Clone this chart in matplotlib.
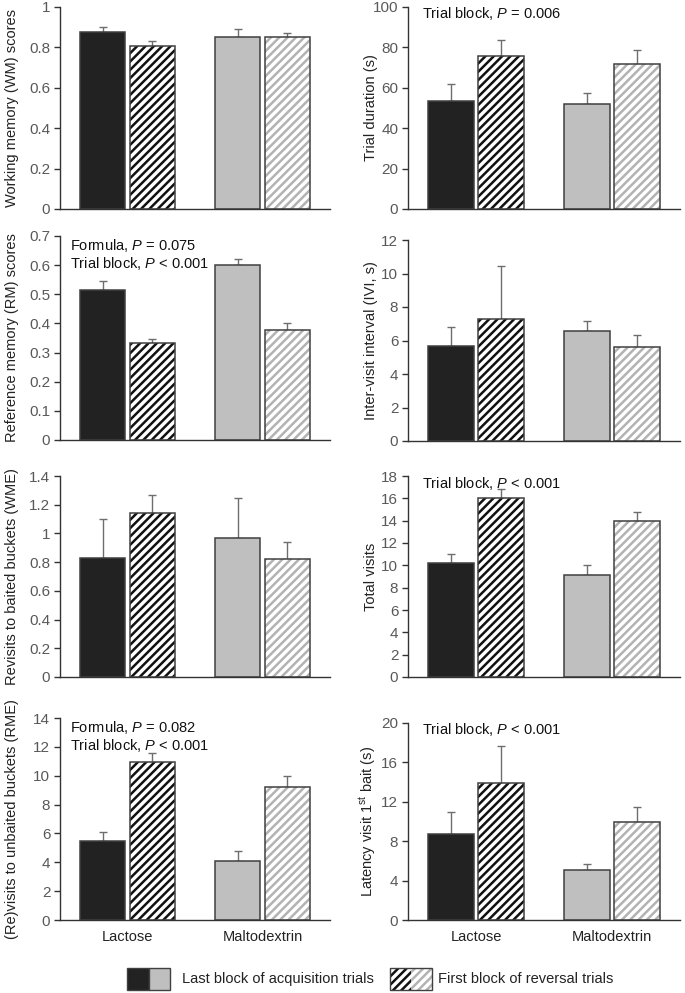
import matplotlib
matplotlib.use("Agg")
import matplotlib.pyplot as plt
from matplotlib.patches import Rectangle

plt.rcParams["font.family"] = ["Liberation Sans", "DejaVu Sans"]
plt.rcParams["mathtext.fontset"] = "custom"
plt.rcParams["mathtext.rm"] = "Liberation Sans"
plt.rcParams["mathtext.it"] = "Liberation Sans:italic"
plt.rcParams["hatch.linewidth"] = 1.8

groups = ["Lactose", "Maltodextrin"]

# means: [lactose last, lactose first-rev, malto last, malto first-rev]
wm_mean = [0.875, 0.805, 0.85, 0.85]
wm_err = [0.025, 0.025, 0.04, 0.02]
dur_mean = [53.5, 75.5, 52.0, 72.0]
dur_err = [8.5, 8.0, 5.5, 6.5]
rm_mean = [0.515, 0.333, 0.600, 0.377]
rm_err = [0.030, 0.014, 0.020, 0.025]
ivi_mean = [5.65, 7.3, 6.55, 5.6]
ivi_err = [1.15, 3.15, 0.6, 0.7]
wme_mean = [0.83, 1.14, 0.965, 0.82]
wme_err = [0.27, 0.13, 0.285, 0.12]
visits_mean = [10.2, 16.0, 9.1, 14.0]
visits_err = [0.8, 0.8, 0.9, 0.8]
rme_mean = [5.5, 10.95, 4.1, 9.2]
rme_err = [0.6, 0.65, 0.7, 0.8]
lat_mean = [8.7, 13.9, 5.1, 9.9]
lat_err = [2.3, 3.8, 0.55, 1.55]

panels = [
    # (mean, err, ylabel, ymax, ystep, annotations, pixel box [left, top, right, bottom])
    (wm_mean, wm_err, "Working memory (WM) scores", 1.0, 0.2, [], [60, 7, 330, 209]),
    (dur_mean, dur_err, "Trial duration (s)", 100, 20,
     ["Trial block, $P$ = 0.006"], [408, 7, 680, 209]),
    (rm_mean, rm_err, "Reference memory (RM) scores", 0.7, 0.1,
     ["Formula, $P$ = 0.075", "Trial block, $P$ < 0.001"], [60, 236, 330, 440]),
    (ivi_mean, ivi_err, "Inter-visit interval (IVI, s)", 12, 2, [], [408, 240, 680, 441]),
    (wme_mean, wme_err, "Revisits to baited buckets (WME)", 1.4, 0.2, [], [60, 476, 330, 677]),
    (visits_mean, visits_err, "Total visits", 18, 2,
     ["Trial block, $P$ < 0.001"], [408, 476, 680, 677]),
    (rme_mean, rme_err, "(Re)visits to unbaited buckets (RME)", 14, 2,
     ["Formula, $P$ = 0.082", "Trial block, $P$ < 0.001"], [60, 718, 330, 920]),
    (lat_mean, lat_err, "Latency visit 1$^{\\mathrm{st}}$ bait (s)", 20, 4,
     ["Trial block, $P$ < 0.001"], [408, 723, 680, 920]),
]

W, H = 685, 993
fig = plt.figure(figsize=(W / 100, H / 100), dpi=100)

black = "#222222"
gray = "#bfbfbf"
edge = "#404040"
light_hatch = "#b3b3b3"
err_col = "#6e6e6e"
tick_col = "#595959"

xpos = [-0.185, 0.185, 0.815, 1.185]
width = 0.34
faces = [black, "white", gray, "white"]
hatches = [None, "////", None, "////"]
hatch_cols = [None, "#111111", None, light_hatch]

for idx, (mean, err, ylabel, ymax, ystep, notes, box) in enumerate(panels):
    l, t, r, b = box
    ax = fig.add_axes([l / W, 1 - b / H, (r - l) / W, (b - t) / H])
    for i in range(4):
        if hatches[i]:
            ax.bar(xpos[i], mean[i], width, color="white", edgecolor=hatch_cols[i],
                   hatch=hatches[i], linewidth=0, zorder=2)
            ax.bar(xpos[i], mean[i], width, fill=False, edgecolor=edge, linewidth=1.1, zorder=3)
        else:
            ax.bar(xpos[i], mean[i], width, color=faces[i], edgecolor=edge, linewidth=1.1, zorder=2)
    ax.errorbar(xpos, mean, yerr=[[0] * 4, err], fmt="none", ecolor=err_col,
                elinewidth=1, capsize=3, capthick=1, zorder=1)

    ax.set_xlim(-0.5, 1.5)
    ax.set_ylim(0, ymax)
    n = int(round(ymax / ystep))
    ticks = [round(k * ystep, 6) for k in range(n + 1)]
    ax.set_yticks(ticks)
    ax.set_yticklabels(["{:g}".format(v) for v in ticks])
    ax.spines["top"].set_visible(False)
    ax.spines["right"].set_visible(False)
    for s in ["left", "bottom"]:
        ax.spines[s].set_color("#333333")
        ax.spines[s].set_linewidth(1)
    ax.tick_params(axis="y", direction="out", length=4, width=1, color="#333333",
                   labelsize=11, labelcolor=tick_col, pad=3)
    ax.tick_params(axis="x", length=0)
    if idx >= 6:
        ax.set_xticks([0, 1])
        ax.set_xticklabels(groups, fontsize=10.5, color="#222222")
        ax.tick_params(axis="x", pad=7)
    else:
        ax.set_xticks([])
    ax.set_ylabel(ylabel, fontsize=10.5, color="#222222")
    if idx % 2 == 0:
        ax.yaxis.set_label_coords((19 - l) / (r - l), 0.5)
    else:
        ax.yaxis.set_label_coords((378 - l) / (r - l), 0.5)

    tx = 70 if idx % 2 == 0 else 422
    ty0 = t + 9 if idx % 2 == 0 else t + 7
    for k, note in enumerate(notes):
        fig.text(tx / W, 1 - (ty0 + k * 18) / H, note, fontsize=10.5, color="#111111",
                 va="center", ha="left")

# legend at bottom
legax = fig.add_axes([0, 0, 1, 1])
legax.set_xlim(0, W)
legax.set_ylim(H, 0)
legax.axis("off")
legax.add_patch(Rectangle((127, 968), 22, 22, facecolor=black, edgecolor=edge, linewidth=1))
legax.add_patch(Rectangle((149, 968), 21, 22, facecolor=gray, edgecolor=edge, linewidth=1))
legax.text(182, 979, "Last block of acquisition trials", fontsize=10.5, va="center", color="#222222")
legax.add_patch(Rectangle((390, 968), 21, 22, facecolor="white", edgecolor="#111111",
                          hatch="////", linewidth=0))
legax.add_patch(Rectangle((411, 968), 21, 22, facecolor="white", edgecolor=light_hatch,
                          hatch="////", linewidth=0))
legax.add_patch(Rectangle((390, 968), 42, 22, fill=False, edgecolor=edge, linewidth=1))
legax.text(438, 979, "First block of reversal trials", fontsize=10.5, va="center", color="#222222")

fig.savefig("out.png", dpi=100)
